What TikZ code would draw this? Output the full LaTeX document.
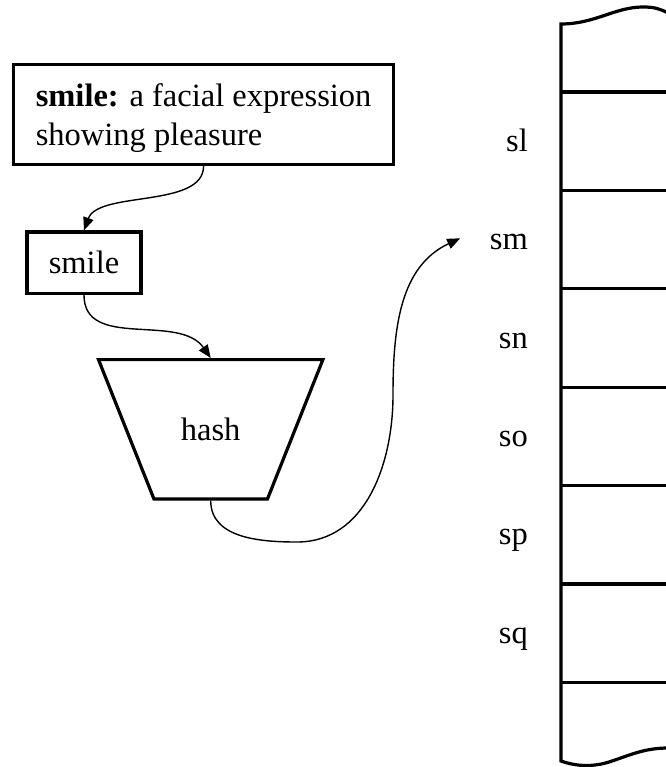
\documentclass[tikz,border=0pt]{standalone}
\usepackage{fontspec}
\setmainfont{Liberation Serif}
\usepackage{tikz}
\usetikzlibrary{
  arrows.meta,
  shapes.geometric,
  positioning,
  calc
}
\newcommand{\hfont}{\fontsize{32.5pt}{39pt}\selectfont}
\tikzset{
  hnode/.style={
    draw, line width=3.2pt, inner sep=0pt, align=center
  },
  hbox/.style={hnode, rectangle},
  hashfn/.style={
    hnode, trapezium, shape border rotate=180,
    trapezium left angle=68.3, trapezium right angle=68.3,
    text width=113.5pt, text height=80.7pt, text depth=58.7pt
  },
  slot/.style={anchor=base east, inner sep=0pt},
  link/.style={-{Triangle[length=13pt, width=10.5pt]}, line width=1.4pt},
  tabline/.style={line width=3.2pt}
}

\begin{document}
\begin{tikzpicture}[x=1pt, y=1pt, font=\hfont]
  \useasboundingbox (0,0) rectangle (665,-767);
  \node[hbox, minimum width=380pt, minimum height=99.8pt, align=left] (def) at (203.6,-114.5) {\rule{0pt}{30pt}\textbf{smile:} a facial expression\\showing pleasure};
  \node[hbox, minimum width=114pt, minimum height=61.5pt] (key) at (84,-262.75) {smile};
  \node[hashfn] (hash) at (210.7,-429.3) {hash};
  % the table, torn at top and bottom
  \draw[tabline] (668,-13) .. controls (660,-9) and (655,-7) .. (643,-7)
    .. controls (615,-7) and (595,-24) .. (561,-24) -- (561,-761)
    .. controls (578,-767) and (595,-767) .. (612,-761)
    .. controls (630,-755) and (645,-748) .. (668,-748);
  \foreach \i in {0,...,6}
    \draw[tabline] (561,-92-98.4*\i) -- (668,-92-98.4*\i);
  \foreach \s [count=\i from 0] in {sl,sm,sn,so,sp,sq}
    \node[slot] (\s) at (528,-151.2-98.4*\i) {\s};
  \coordinate (smin) at ($(sm.base west)+(-29.5,11.3)$);
  \draw[link] (def.south) to[out=-90, in=70, looseness=0.8] (key.north);
  \draw[link] (key.south) to[out=-90, in=125] (hash.north);
  \draw[link] (hash.south) to[out=-90, in=180] (297,-542) to[out=0, in=-90] (393,-395) to[out=90, in=205] (smin);
\end{tikzpicture}
\end{document}
